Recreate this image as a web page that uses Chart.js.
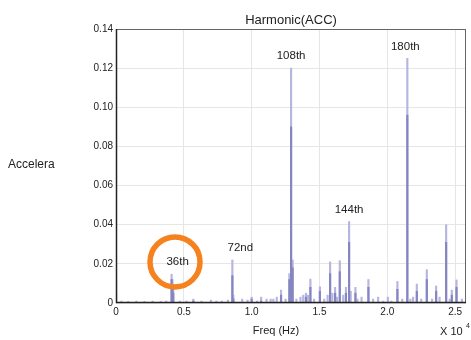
<!DOCTYPE html>
<html>
<head>
<meta charset="utf-8">
<script src="https://cdn.jsdelivr.net/npm/chart.js@4"></script>
<style>
  html, body { margin: 0; padding: 0; background: #fff; }
  #wrap { width: 471px; height: 340px; position: relative; }
</style>
</head>
<body>
<div id="wrap"><canvas id="chart" width="471" height="340"></canvas></div>
<script>
// spectrum lines (Hz) - outer (light) height and inner (dark) height
const freqHz = [0, 400, 900, 1500, 2100, 2700, 3300, 3700, 4100, 4160, 4220, 4700, 5200, 5700, 6300, 7000,
  7400, 7800, 8250, 8578, 8650, 9300, 9700, 10000, 10400, 10700, 11100, 11400, 11600, 11850, 12166, 12500,
  12780, 12906, 13020, 13300, 13600, 13800, 14000, 14150, 14330, 14600, 15030, 15350, 15600, 15782, 15950,
  16150, 16300, 16497, 16750, 16950, 17183, 17300, 17650, 17800, 18100, 18607, 18950, 19322, 19700, 20036,
  20300, 20744, 21100, 21475, 21700, 21900, 22174, 22500, 22911, 23300, 23598, 23850, 24336, 24600, 24754,
  25100, 25500];
const amplitude = [0.012, 0.001, 0.0008, 0.001, 0.0008, 0.001, 0.0008, 0.001, 0.0147, 0.012, 0.008, 0.001, 0.001, 0.002, 0.001, 0.0015,
  0.001, 0.001, 0.0015, 0.022, 0.004, 0.002, 0.0015, 0.003, 0.001, 0.003, 0.002, 0.002, 0.002, 0.003, 0.0066, 0.002,
  0.015, 0.12, 0.022, 0.002, 0.003, 0.004, 0.005, 0.004, 0.0122, 0.002, 0.0083, 0.002, 0.004, 0.021, 0.005,
  0.008, 0.003, 0.0216, 0.004, 0.008, 0.0416, 0.006, 0.008, 0.002, 0.003, 0.012, 0.002, 0.003, 0.001, 0.003,
  0.001, 0.011, 0.002, 0.125, 0.002, 0.003, 0.0097, 0.002, 0.017, 0.002, 0.0087, 0.003, 0.040, 0.002, 0.0066,
  0.0118, 0.002];
const innerAmp = [0.006, 0, 0, 0, 0, 0, 0, 0, 0.012, 0.008, 0.005, 0, 0, 0.001, 0, 0,
  0, 0, 0, 0.014, 0.002, 0, 0, 0.002, 0, 0.001, 0, 0, 0, 0, 0.004, 0,
  0.012, 0.09, 0.018, 0, 0, 0, 0.003, 0, 0.008, 0, 0.006, 0, 0, 0.015, 0,
  0.005, 0, 0.016, 0, 0.005, 0.031, 0, 0.005, 0, 0, 0.008, 0, 0, 0, 0,
  0, 0.007, 0, 0.096, 0, 0, 0.006, 0, 0.012, 0, 0.006, 0, 0.031, 0, 0.004,
  0.008, 0];

const xTicks = [0, 5000, 10000, 15000, 20000, 25000];
const yTicks = [0, 0.02, 0.04, 0.06, 0.08, 0.10, 0.12, 0.14];

// harmonic callouts, anchored on the peak they name
const harmonicNames = ['36th', '72nd', '108th', '144th', '180th'];
const harmonicFreq = [4100, 8578, 12906, 17183, 21475];
const harmonicAmp = [0.0147, 0.022, 0.12, 0.0416, 0.125];
const labelShift = [6, 8, 0, 0, -2];

const FONT = "'Liberation Sans', Arial, sans-serif";

const toPoints = (ys) => freqHz.map((f, i) => ({ x: f, y: ys[i] }));

const overlay = {
  id: 'overlay',
  afterDraw(chart) {
    const { ctx, chartArea: a, scales } = chart;
    const xs = scales.x, ys = scales.y;
    ctx.save();

    // frame
    ctx.strokeStyle = '#666';
    ctx.lineWidth = 1;
    ctx.strokeRect(a.left + 0.5, a.top + 0.5, a.right - a.left - 1, a.bottom - a.top - 1);
    ctx.strokeStyle = '#222';
    ctx.lineWidth = 1.5;
    ctx.beginPath();
    ctx.moveTo(a.left + 0.5, a.top);
    ctx.lineTo(a.left + 0.5, a.bottom - 0.5);
    ctx.lineTo(a.right, a.bottom - 0.5);
    ctx.stroke();

    ctx.fillStyle = '#222';
    ctx.textBaseline = 'middle';

    ctx.font = '13px ' + FONT;
    ctx.textAlign = 'center';
    ctx.fillText('Harmonic(ACC)', 291, 20);

    ctx.font = '12px ' + FONT;
    ctx.textAlign = 'left';
    ctx.fillText('Accelera', 8, 165);

    ctx.font = '11px ' + FONT;
    ctx.textAlign = 'center';
    ctx.fillText('Freq (Hz)', 276, 331);
    ctx.textAlign = 'left';
    ctx.fillText('X 10', 440, 332);
    ctx.font = '7px ' + FONT;
    ctx.fillText('4', 466, 326);

    ctx.font = '11.5px ' + FONT;
    ctx.textAlign = 'center';
    harmonicNames.forEach((name, i) => {
      const px = xs.getPixelForValue(harmonicFreq[i]) + labelShift[i];
      const py = ys.getPixelForValue(harmonicAmp[i]) - 12;
      ctx.fillText(name, px, py);
    });

    // orange ring around the 36th
    ctx.strokeStyle = '#F5821F';
    ctx.lineWidth = 5.5;
    ctx.beginPath();
    ctx.arc(xs.getPixelForValue(4350), ys.getPixelForValue(0.021), 25, 0, Math.PI * 2);
    ctx.stroke();

    ctx.restore();
  }
};

new Chart(document.getElementById('chart'), {
  type: 'bar',
  data: {
    datasets: [
      {
        data: toPoints(innerAmp),
        backgroundColor: '#8585c2',
        barThickness: 1.5,
        order: 0
      },
      {
        data: toPoints(amplitude),
        backgroundColor: '#b6b6de',
        barThickness: 1.5,
        order: 1
      }
    ]
  },
  options: {
    responsive: false,
    animation: false,
    datasets: { bar: { grouped: false } },
    layout: { padding: { top: 29, right: 5, left: 0, bottom: 0 } },
    plugins: {
      legend: { display: false },
      title: { display: false },
      tooltip: { enabled: false }
    },
    scales: {
      x: {
        type: 'linear',
        offset: false,
        min: 0,
        max: 25800,
        afterFit: (s) => { s.height = 37; },
        afterBuildTicks: (s) => { s.ticks = xTicks.map(v => ({ value: v })); },
        grid: { color: '#e6e6e6', drawTicks: false, offset: false },
        border: { display: false },
        ticks: {
          padding: 3,
          color: '#222',
          font: { family: FONT, size: 10 },
          maxRotation: 0,
          callback: (v) => v === 0 ? '0' : (v / 10000).toFixed(1)
        }
      },
      y: {
        min: 0,
        max: 0.14,
        afterFit: (s) => { s.width = 116; },
        afterBuildTicks: (s) => { s.ticks = yTicks.map(v => ({ value: v })); },
        grid: { color: '#e6e6e6', drawTicks: false },
        border: { display: false },
        ticks: {
          padding: 3,
          color: '#222',
          font: { family: FONT, size: 10 },
          callback: (v) => v === 0 ? '0' : v.toFixed(2)
        }
      }
    }
  },
  plugins: [overlay]
});
</script>
</body>
</html>
